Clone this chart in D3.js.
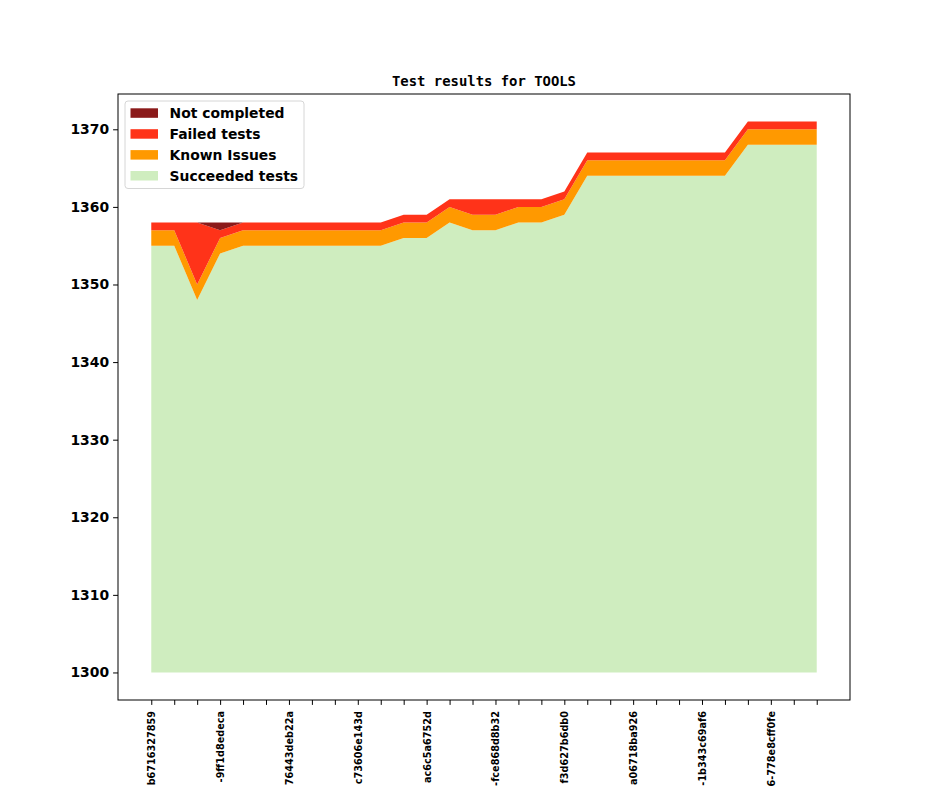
<!DOCTYPE html>
<html>
<head>
<meta charset="utf-8">
<script src="https://cdn.jsdelivr.net/npm/d3@7"></script>
<style>
  body { margin: 0; background: #fff; }
  svg { display: block; }
  .tick text { font-family: "DejaVu Sans", sans-serif; font-weight: bold; }
</style>
</head>
<body>
<div id="chart"></div>
<script>
// Commit labels, one per run (only every third one is printed on the axis)
const COMMITS = [
  'b6716327859', 'a-0c41d27e19b', 'c-51f0a9e3d24',
  '-9ff1d8edeca', '4-3e2b7d90a61', '2-8c17f4be05d',
  '76443deb22a', '1-6d0e93a7c42', '8-e25b1f08d73',
  'c73606e143d', '5-0a9c7e4f812', '3-d86f21b5c90',
  'ac6c5a6752d', '9-47e0b3d1a6c', 'e-2f9a85c07d1',
  '-fce868d8b32', '0-b3c6e1f7a28', '6-91d4a0c5e3f',
  'f3d627b6db0', 'd-5e8b2f17c94', '2-a7c03e9d6b1',
  'a06718ba926', '7-0d5f1c8e4a3', 'b-e69c2a7d018',
  '-1b343c69af6', '4-c2e8f0a19d7', '1-8f3b6d5e2c0',
  '6-778e8cff0fe', '9-3a1d7e4b6f5', 'f-d0b52c9a8e1'
];

// counts per run
const SUCCEEDED = [1355, 1355, 1348, 1354, 1355, 1355, 1355, 1355, 1355, 1355,
                   1355, 1356, 1356, 1358, 1357, 1357, 1358, 1358, 1359, 1364,
                   1364, 1364, 1364, 1364, 1364, 1364, 1368, 1368, 1368, 1368];
const KNOWN_ISSUES = [2, 2, 2, 2, 2, 2, 2, 2, 2, 2,
                      2, 2, 2, 2, 2, 2, 2, 2, 2, 2,
                      2, 2, 2, 2, 2, 2, 2, 2, 2, 2];
const FAILED = [1, 1, 8, 1, 1, 1, 1, 1, 1, 1,
                1, 1, 1, 1, 2, 2, 1, 1, 1, 1,
                1, 1, 1, 1, 1, 1, 1, 1, 1, 1];
const NOT_COMPLETED = [0, 0, 0, 1, 0, 0, 0, 0, 0, 0,
                       0, 0, 0, 0, 0, 0, 0, 0, 0, 0,
                       0, 0, 0, 0, 0, 0, 0, 0, 0, 0];

// stack order, bottom first
const SERIES = ['Succeeded tests', 'Known Issues', 'Failed tests', 'Not completed'];
const COLORS = ['#cfedbf', '#ff9900', '#ff3319', '#8b1a1a'];

const BASE = 1300;
const Y_TICKS = [1300, 1310, 1320, 1330, 1340, 1350, 1360, 1370];
const TITLE = 'Test results for TOOLS';

const W = 944, H = 787;
const margin = {left: 118, right: 94, top: 94, bottom: 87};
const iw = W - margin.left - margin.right;
const ih = H - margin.top - margin.bottom;

let rows = COMMITS.map((c, i) => ({
  i: i,
  'Succeeded tests': SUCCEEDED[i],
  'Known Issues': KNOWN_ISSUES[i],
  'Failed tests': FAILED[i],
  'Not completed': NOT_COMPLETED[i]
}));
let stacked = d3.stack().keys(SERIES)(rows);

let n = COMMITS.length;
// matplotlib style 5% padding on both axes
let xpad = (n - 1) * 0.05;
let x = d3.scaleLinear()
  .domain([-xpad, n - 1 + xpad])
  .range([0, iw]);
let ymax = d3.max(stacked[stacked.length - 1], d => d[1]);
let ypad = (ymax - BASE) * 0.05;
let y = d3.scaleLinear()
  .domain([BASE - ypad, ymax + ypad])
  .range([ih, 0]);

let svg = d3.select('#chart').append('svg')
  .attr('width', W)
  .attr('height', H);
let g = svg.append('g')
  .attr('transform', `translate(${margin.left},${margin.top})`);

// the green layer sits on the BASE line, not on zero
let area = d3.area()
  .x(d => x(d.data.i))
  .y0(d => y(Math.max(d[0], BASE)))
  .y1(d => y(d[1]));

g.selectAll('.layer').data(stacked)
  .enter()
  .append('path')
  .classed('layer', true)
  .attr('d', area)
  .attr('fill', (d, i) => COLORS[i]);

// axes
let ticklen = 4.9;
g.append('g')
  .attr('class', 'y-axis')
  .call(d3.axisLeft(y)
    .tickValues(Y_TICKS)
    .tickFormat(d3.format('d'))
    .tickSizeInner(ticklen)
    .tickSizeOuter(0)
    .tickPadding(4))
  .call(a => a.select('.domain').remove())
  .selectAll('text')
  .attr('font-size', 13.9)
  .attr('fill', '#000');

let xa = g.append('g')
  .attr('class', 'x-axis')
  .attr('transform', `translate(0,${ih})`)
  .call(d3.axisBottom(x)
    .tickValues(d3.range(n))
    .tickFormat(i => (i % 3 === 0 ? COMMITS[i] : ''))
    .tickSizeInner(ticklen)
    .tickSizeOuter(0)
    .tickPadding(4));
xa.select('.domain').remove();
xa.selectAll('text')
  .attr('font-size', 9.7)
  .attr('fill', '#000')
  .attr('text-anchor', 'end')
  .attr('transform', 'rotate(-90)')
  .attr('x', -11)
  .attr('y', 0)
  .attr('dy', '0.35em');

// frame around the plot
g.append('rect')
  .attr('width', iw)
  .attr('height', ih)
  .attr('fill', 'none')
  .attr('stroke', '#000')
  .attr('stroke-width', 1);

svg.append('text')
  .attr('x', margin.left + iw / 2)
  .attr('y', margin.top - 8)
  .attr('text-anchor', 'middle')
  .attr('font-family', '"DejaVu Sans Mono", monospace')
  .attr('font-weight', 'bold')
  .attr('font-size', 13.9)
  .text(TITLE);

// legend, top series first
let legend = g.append('g').attr('transform', 'translate(7,7)');
legend.append('rect')
  .attr('width', 179)
  .attr('height', 87.5)
  .attr('rx', 3)
  .attr('fill', '#fff')
  .attr('fill-opacity', 0.8)
  .attr('stroke', '#d6d6d6');
let items = legend.selectAll('.item')
  .data(SERIES.map((s, i) => ({name: s, color: COLORS[i]})).reverse())
  .enter()
  .append('g')
  .classed('item', true)
  .attr('transform', (d, i) => `translate(0,${12 + i * 20.9})`);
items.append('rect')
  .attr('x', 5.5)
  .attr('y', -4.7)
  .attr('width', 27.5)
  .attr('height', 9.5)
  .attr('fill', d => d.color);
items.append('text')
  .attr('x', 44.5)
  .attr('dy', '0.35em')
  .attr('font-family', '"DejaVu Sans", sans-serif')
  .attr('font-weight', 'bold')
  .attr('font-size', 13.9)
  .text(d => d.name);
</script>
</body>
</html>
